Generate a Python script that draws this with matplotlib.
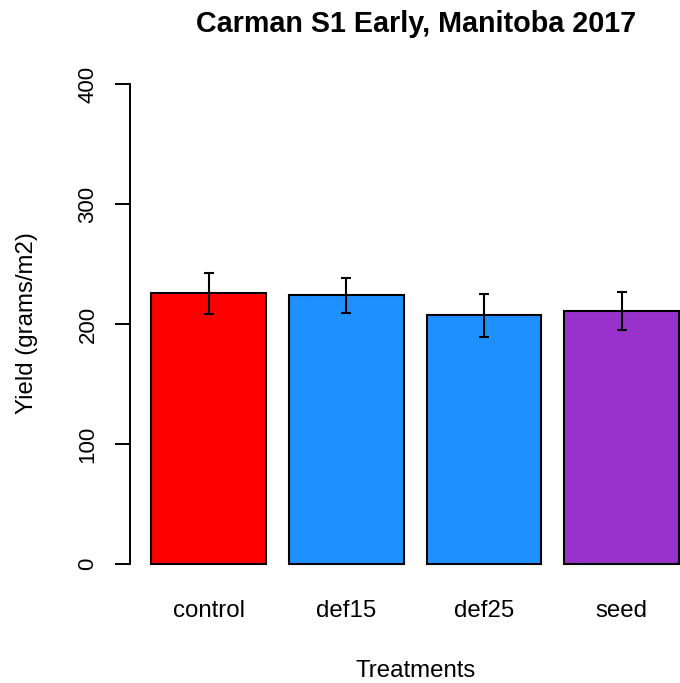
import matplotlib
matplotlib.use("Agg")
import matplotlib.pyplot as plt

treatments = ["control", "def15", "def25", "seed"]
yield_mean = [225.6, 224.0, 207.2, 210.8]
yield_err = [17.2, 14.5, 17.9, 16.0]
bar_colors = ["#FF0000", "#1E90FF", "#1E90FF", "#9932CC"]
y_ticks = [0, 100, 200, 300, 400]

plt.rcParams["font.family"] = ["Liberation Sans", "DejaVu Sans"]

W, H = 680, 683
fig = plt.figure(figsize=(W / 100, H / 100), dpi=100)

# R barplot style: width 1, space 0.2, 4% axis extension
left_px, right_px, top_px, bot_px = 130.2, 700.0, 64.8, 583.2
ax = fig.add_axes([left_px / W, 1 - bot_px / H,
                   (right_px - left_px) / W, (bot_px - top_px) / H])

x = [0.7 + 1.2 * i for i in range(len(treatments))]
ax.bar(x, yield_mean, width=1.0, color=bar_colors, edgecolor="black",
       linewidth=1.5, zorder=2)
ax.errorbar(x, yield_mean, yerr=yield_err, fmt="none", ecolor="black",
            elinewidth=1.5, capsize=3.3, capthick=1.5, zorder=3)

ax.set_xlim(0.016, 4.984)
ax.set_ylim(-16, 416)

for s in ["top", "right", "bottom"]:
    ax.spines[s].set_visible(False)
ax.spines["left"].set_bounds(0, 400)
ax.spines["left"].set_linewidth(1.4)

ax.set_yticks(y_ticks)
ax.set_yticklabels([str(v) for v in y_ticks])
ax.tick_params(axis="y", length=10.8, width=1.4, pad=12, labelsize=16,
               rotation=90)
for lbl in ax.get_yticklabels():
    lbl.set_va("center")

ax.set_xticks(x)
ax.set_xticklabels(treatments)
ax.tick_params(axis="x", length=0, pad=12, labelsize=17.3)

fig.text(416 / W, 1 - 32 / H, "Carman S1 Early, Manitoba 2017",
         ha="center", va="baseline", fontsize=20.7, fontweight="bold")
fig.text(416 / W, 1 - 677 / H, "Treatments", ha="center", va="baseline",
         fontsize=17.3)
fig.text(33 / W, 1 - 323 / H, "Yield (grams/m2)", ha="center",
         va="baseline", rotation=90, rotation_mode="anchor", fontsize=17.3)

fig.savefig("out.png", dpi=100)
